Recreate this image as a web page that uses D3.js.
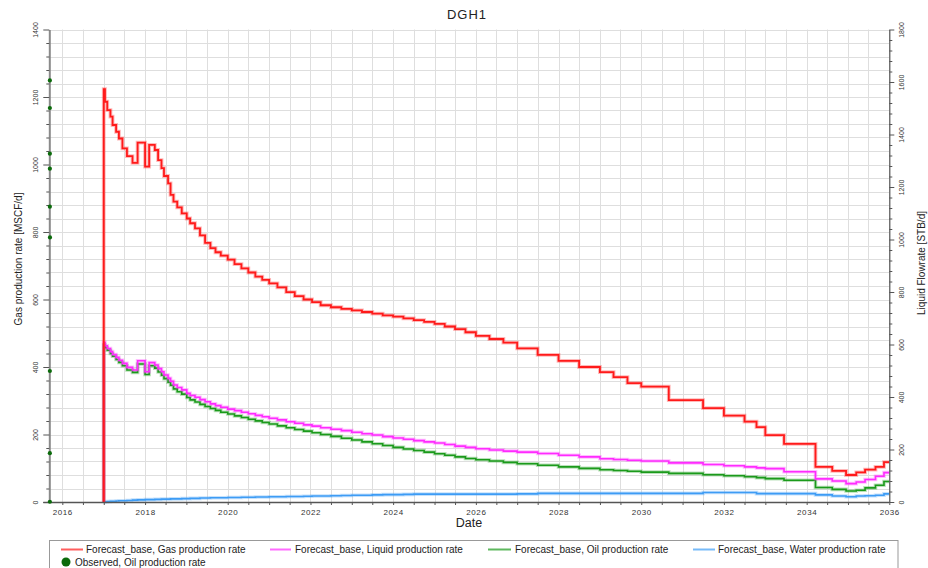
<!DOCTYPE html>
<html>
<head>
<meta charset="utf-8">
<script src="https://cdn.jsdelivr.net/npm/d3@7"></script>
<style>
  body { margin: 0; background: #fff; }
  text { font-family: "Liberation Sans", Arial, sans-serif; }
</style>
</head>
<body>
<svg id="chart" width="928" height="568"></svg>
<script>
// ---- Forecast time steps (shared by all forecast series) ----
const forecastDates = [
  "2017-01-01","2017-01-12","2017-02-01","2017-03-01","2017-03-20","2017-04-20","2017-05-15","2017-06-15",
  "2017-07-25","2017-09-12","2017-10-27","2018-01-01","2018-02-06","2018-03-28","2018-04-26","2018-05-26",
  "2018-06-17","2018-07-23","2018-08-14","2018-09-09","2018-10-12","2018-11-21","2019-01-04","2019-02-03",
  "2019-03-18","2019-05-01","2019-06-15","2019-08-01","2019-09-15","2019-11-01","2020-01-01","2020-03-01",
  "2020-05-01","2020-07-01","2020-09-01","2020-11-01","2021-01-01","2021-03-15","2021-06-01","2021-08-15",
  "2021-11-01","2022-01-15","2022-04-01","2022-07-01","2022-10-01","2023-01-01","2023-04-01","2023-07-01",
  "2023-10-01","2024-01-01","2024-04-01","2024-07-01","2024-10-01","2025-01-01","2025-04-01","2025-07-01",
  "2025-10-01","2026-01-01","2026-05-01","2026-09-01","2027-01-01","2027-07-01","2028-01-01","2028-07-01",
  "2029-01-01","2029-05-01","2029-09-01","2030-01-01","2030-09-01","2031-07-01","2032-01-01","2032-07-01",
  "2032-10-15","2033-01-01","2033-06-15","2034-03-20","2034-08-15","2034-12-15","2035-03-15","2035-06-01",
  "2035-09-01","2035-11-15"
];
const forecastEnd = "2036-01-01";

// Gas production rate [MSCF/d]
const gasRate = [
  1223,1186,1161,1142,1117,1097,1077,1048,1025,1005,1065,994,1058,1043,1013,989,
  966,944,910,890,873,855,840,826,811,790,768,752,740,730,718,705,
  692,680,668,658,648,636,622,610,600,592,583,577,572,568,563,558,
  553,549,544,539,534,528,520,512,503,492,483,472,455,436,418,400,
  385,370,352,342,302,278,256,238,222,198,172,104,92,80,88,96,
  104,118
];
// Liquid production rate [STB/d]
const liquidRate = [
  607,595,585,573,562,551,540,528,513,503,538,496,531,522,508,496,
  484,471,460,446,436,427,414,406,399,390,382,374,367,361,354,348,
  342,336,330,325,319,313,306,300,294,289,283,277,272,266,260,255,
  249,244,239,234,229,225,219,213,208,203,198,194,190,185,178,172,
  165,162,159,156,149,143,138,134,130,127,115,88,80,70,76,86,
  98,112
];
// Oil production rate [STB/d]
const oilRate = [
  598,588,578,566,555,543,532,519,503,494,526,486,519,510,495,483,
  470,456,445,431,420,411,398,389,381,372,364,356,349,342,335,328,
  322,315,309,303,297,290,283,276,270,264,257,250,243,236,229,222,
  215,208,202,196,190,184,178,172,166,161,156,151,146,140,134,128,
  123,120,117,114,109,104,100,96,93,89,83,55,48,42,45,54,
  64,78
];
// Water production rate [STB/d]
const waterRate = [
  0,1,2,3,3,4,5,5,6,7,8,9,9,10,10,11,
  11,11,12,12,12,13,13,14,14,15,15,16,16,16,17,17,
  18,18,19,19,20,20,21,21,22,23,23,24,25,26,26,27,
  28,28,29,30,30,30,30,30,30,30,30,30,31,33,33,33,
  33,33,33,33,33,36,36,36,32,32,32,27,23,20,23,24,
  26,31
];

// Observed oil production rate [STB/d]
const observedDates = ["2015-09-13","2015-09-13","2015-09-13","2015-09-13","2015-09-13",
                       "2015-09-14","2015-09-13","2015-09-13","2015-09-13"];
const observedOil = [1606,1501,1327,1270,1125,1008,499,186,1];

// Axis ticks
const gasTicks = [0,200,400,600,800,1000,1200,1400];
const liquidTicks = [0,200,400,600,800,1000,1200,1400,1600,1800];
const dateLabelYears = [2016,2018,2020,2022,2024,2026,2028,2030,2032,2034,2036];

const chartTitle = "DGH1";
const seriesNames = [
  "Forecast_base, Gas production rate",
  "Forecast_base, Liquid production rate",
  "Forecast_base, Oil production rate",
  "Forecast_base, Water production rate",
  "Observed, Oil production rate"
];

// ---- Setup ----
const parse = d3.timeParse("%Y-%m-%d");
const svg = d3.select("#chart");
const plot = { left: 49.3, right: 889.3, top: 29.5, bottom: 502 };

const x = d3.scaleTime()
  .domain([parse("2015-09-08"), parse(forecastEnd)])
  .range([plot.left, plot.right]);
const yGas = d3.scaleLinear().domain([0, 1400]).range([plot.bottom, plot.top]);
const yLiq = d3.scaleLinear().domain([0, 1800]).range([plot.bottom, plot.top]);

const colors = {
  gas: "#ff1a1a",
  liquid: "#ff2bff",
  oil: "#1b9a1b",
  water: "#3d9cf5",
  observed: "#0b6b0b"
};

// ---- Grid ----
const halfYears = x.ticks(d3.timeMonth.every(6));
const gasMinor = d3.range(0, 1401, 40);
const grid = svg.append("g").attr("stroke", "#dedede").attr("stroke-width", 1);
grid.selectAll("line.v").data(halfYears).join("line")
  .attr("x1", d => Math.round(x(d)) + 0.5).attr("x2", d => Math.round(x(d)) + 0.5)
  .attr("y1", plot.top).attr("y2", plot.bottom);
grid.selectAll("line.h").data(gasMinor).join("line")
  .attr("x1", plot.left).attr("x2", plot.right)
  .attr("y1", d => Math.round(yGas(d)) + 0.5).attr("y2", d => Math.round(yGas(d)) + 0.5);

// ---- Forecast series ----
function seriesPoints(values) {
  const pts = forecastDates.map((d, i) => ({ date: parse(d), v: values[i] }));
  // the forecast begins from zero and holds its last rate to the end date
  return [{ date: pts[0].date, v: 0 }, ...pts, { date: parse(forecastEnd), v: values[values.length - 1] }];
}
function drawSeries(values, yScale, color, width) {
  const line = d3.line().x(d => x(d.date)).y(d => yScale(d.v)).curve(d3.curveStepAfter);
  const data = seriesPoints(values);
  svg.append("path").datum(data).attr("d", line)
    .attr("fill", "none").attr("stroke", color).attr("stroke-opacity", 0.3)
    .attr("stroke-width", width + 2).attr("stroke-linejoin", "miter");
  svg.append("path").datum(data).attr("d", line)
    .attr("fill", "none").attr("stroke", color)
    .attr("stroke-width", width).attr("stroke-linejoin", "miter");
}
drawSeries(waterRate, yLiq, colors.water, 1.6);
drawSeries(oilRate, yLiq, colors.oil, 1.6);
drawSeries(liquidRate, yLiq, colors.liquid, 1.6);
drawSeries(gasRate, yGas, colors.gas, 1.8);

// ---- Axes ----
const axisFont = "7px";

// Left axis (gas)
const leftAxis = svg.append("g").attr("transform", `translate(${plot.left},0)`)
  .call(d3.axisLeft(yGas).tickValues(gasMinor).tickSizeOuter(0)
    .tickFormat(d => gasTicks.includes(d) ? d : ""));
leftAxis.select(".domain").attr("stroke", "#8a8a8a").attr("stroke-width", 2);
leftAxis.selectAll(".tick line").attr("stroke", "#555")
  .attr("x2", d => gasTicks.includes(d) ? -6 : -3);
leftAxis.selectAll(".tick text")
  .attr("transform", "rotate(-90)").attr("x", 0).attr("y", -11).attr("dy", 0)
  .attr("text-anchor", "middle").attr("fill", "#333").style("font-size", axisFont);

// Right axis (liquid)
const liqMinor = d3.range(0, 1801, 40);
const rightAxis = svg.append("g").attr("transform", `translate(${plot.right},0)`)
  .call(d3.axisRight(yLiq).tickValues(liqMinor).tickSizeOuter(0)
    .tickFormat(d => liquidTicks.includes(d) ? d : ""));
rightAxis.select(".domain").attr("stroke", "#555").attr("stroke-width", 1.2);
rightAxis.selectAll(".tick line").attr("stroke", "#555")
  .attr("x2", d => liquidTicks.includes(d) ? 5 : 3);
rightAxis.selectAll(".tick text")
  .attr("transform", "rotate(-90)").attr("x", 0).attr("y", 14.5).attr("dy", 0)
  .attr("text-anchor", "middle").attr("fill", "#333").style("font-size", axisFont);

// Bottom axis (date)
const bottomAxis = svg.append("g").attr("transform", `translate(0,${plot.bottom})`)
  .call(d3.axisBottom(x).tickValues(halfYears).tickSize(3).tickSizeOuter(0)
    .tickFormat(d => (d.getMonth() === 0 && dateLabelYears.includes(d.getFullYear())) ? d.getFullYear() : ""));
bottomAxis.select(".domain").attr("stroke", "#555").attr("stroke-width", 1.3)
  .attr("d", `M${plot.left - 6},0.5H${plot.right}`);
bottomAxis.selectAll(".tick line").attr("stroke", "#555");
bottomAxis.selectAll(".tick text").attr("y", 7).attr("fill", "#333")
  .style("font-size", "8px").style("letter-spacing", "0.6px");

// ---- Observed points ----
svg.append("g").selectAll("circle")
  .data(observedDates.map((d, i) => ({ date: parse(d), v: observedOil[i] })))
  .join("circle")
  .attr("cx", d => x(d.date)).attr("cy", d => yLiq(d.v)).attr("r", 2.1)
  .attr("fill", colors.observed);

// ---- Titles ----
svg.append("text").attr("x", 467).attr("y", 19).attr("text-anchor", "middle")
  .style("font-size", "13px").style("letter-spacing", "1px").attr("fill", "#222").text(chartTitle);
svg.append("text").attr("x", 469).attr("y", 527).attr("text-anchor", "middle")
  .style("font-size", "12.5px").attr("fill", "#222").text("Date");
svg.append("text").attr("transform", "translate(22,259) rotate(-90)").attr("text-anchor", "middle")
  .style("font-size", "10px").attr("fill", "#222").text("Gas production rate [MSCF/d]");
svg.append("text").attr("transform", "translate(925,263) rotate(-90)").attr("text-anchor", "middle")
  .style("font-size", "10px").attr("fill", "#222").text("Liquid Flowrate [STB/d]");

// ---- Legend ----
const legend = svg.append("g");
legend.append("rect").attr("x", 49.5).attr("y", 540.5).attr("width", 848.5).attr("height", 40)
  .attr("fill", "#fff").attr("stroke", "#999").attr("stroke-width", 1);
const legendItems = [
  { name: seriesNames[0], color: colors.gas, x1: 61, x2: 83, tx: 86 },
  { name: seriesNames[1], color: colors.liquid, x1: 270, x2: 291, tx: 295 },
  { name: seriesNames[2], color: colors.oil, x1: 488, x2: 511, tx: 515 },
  { name: seriesNames[3], color: colors.water, x1: 693, x2: 715, tx: 718 }
];
legendItems.forEach(it => {
  legend.append("line").attr("x1", it.x1).attr("x2", it.x2).attr("y1", 549.5).attr("y2", 549.5)
    .attr("stroke", it.color).attr("stroke-opacity", 0.7).attr("stroke-width", 2);
  legend.append("text").attr("x", it.tx).attr("y", 553).style("font-size", "10px")
    .attr("fill", "#222").text(it.name);
});
legend.append("circle").attr("cx", 66).attr("cy", 562).attr("r", 4.5).attr("fill", colors.observed);
legend.append("text").attr("x", 75).attr("y", 565.5).style("font-size", "10px")
  .attr("fill", "#222").text(seriesNames[4]);
</script>
</body>
</html>
